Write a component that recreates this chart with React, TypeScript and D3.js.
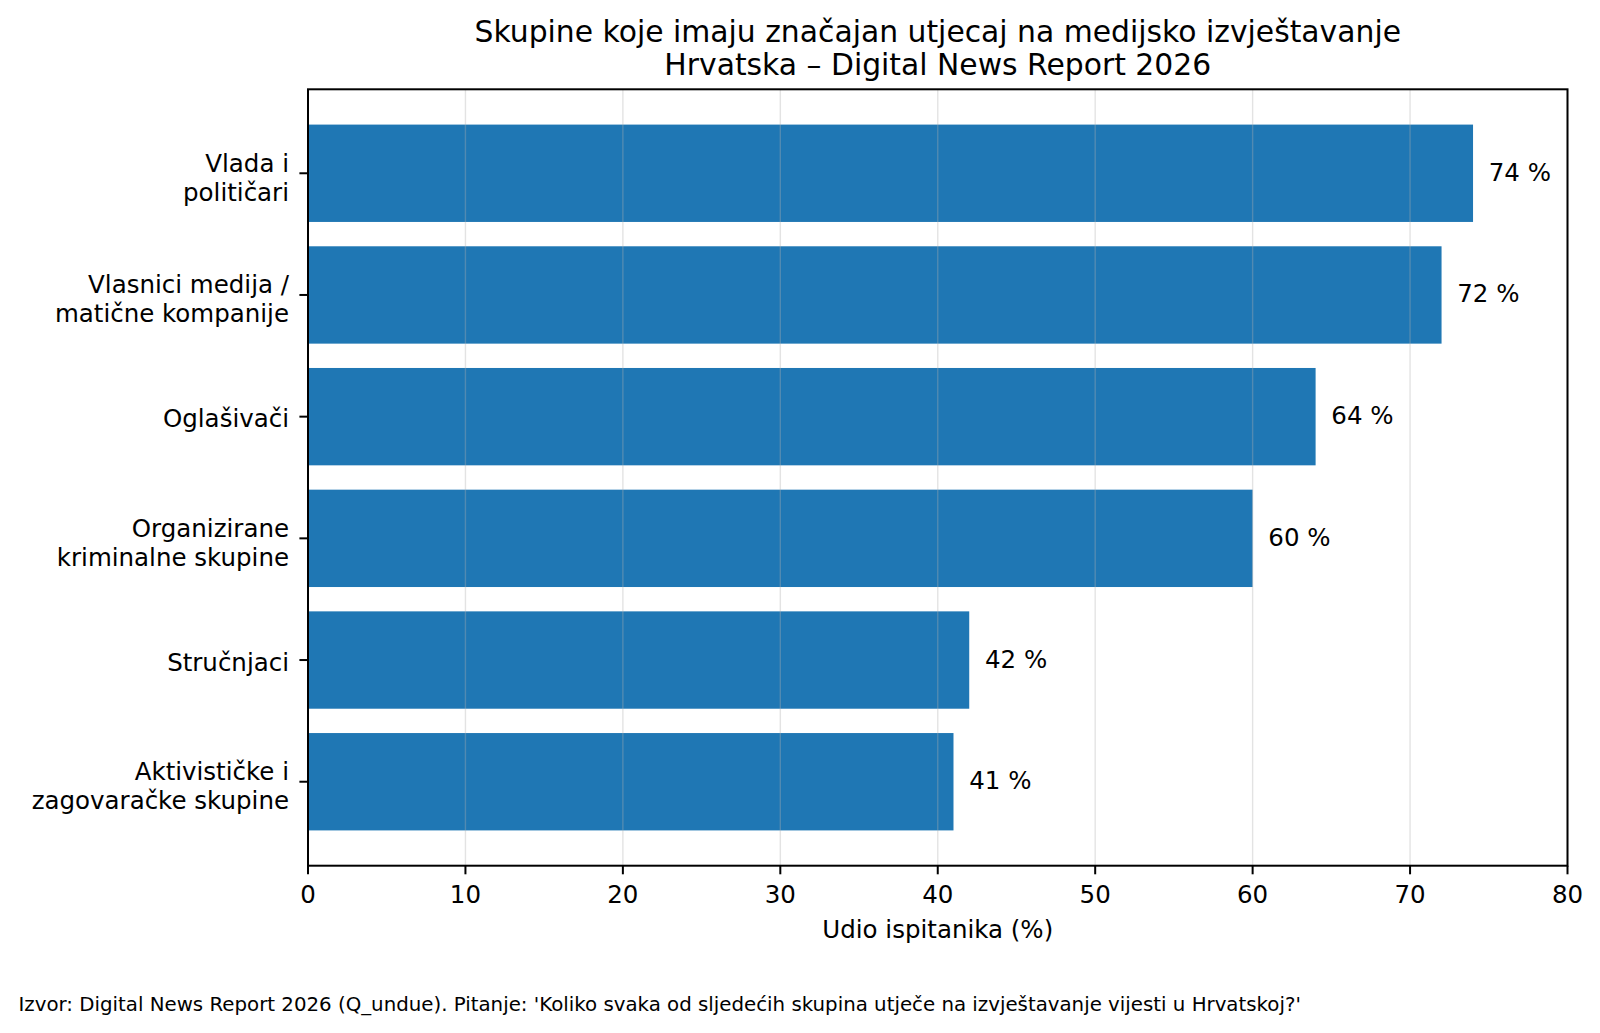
import React from "react";
import * as d3 from "d3";

const categories: string[][] = [
  ["Vlada i", "političari"],
  ["Vlasnici medija /", "matične kompanije"],
  ["Oglašivači"],
  ["Organizirane", "kriminalne skupine"],
  ["Stručnjaci"],
  ["Aktivističke i", "zagovaračke skupine"],
];
const values: number[] = [74, 72, 64, 60, 42, 41];
const xTicks: number[] = [0, 10, 20, 30, 40, 50, 60, 70, 80];
const titleLines: string[] = [
  "Skupine koje imaju značajan utjecaj na medijsko izvještavanje",
  "Hrvatska – Digital News Report 2026",
];
const xLabel = "Udio ispitanika (%)";
const footnote =
  "Izvor: Digital News Report 2026 (Q_undue). Pitanje: 'Koliko svaka od sljedećih skupina utječe na izvještavanje vijesti u Hrvatskoj?'";

const W = 1600;
const H = 1033;
const M = { left: 308, right: 1567.5, top: 89.3, bottom: 865.7 };
const FONT = "DejaVu Sans, sans-serif";
const BAR = "#1f77b4";

export default function App() {
  const x = d3.scaleLinear().domain([0, 80]).range([M.left, M.right]);
  const n = categories.length;
  const y = d3
    .scaleLinear()
    .domain([-0.4 - 0.29, n - 1 + 0.4 + 0.29])
    .range([M.top, M.bottom]);
  const half = 0.4;
  const cx = (M.left + M.right) / 2;
  const tickLen = 8.6;

  return (
    <div style={{ position: "absolute", left: 0, top: 0 }}>
      <svg width={W} height={H} style={{ display: "block", background: "#fff" }} fontFamily={FONT}>
        <rect x={0} y={0} width={W} height={H} fill="#fff" />
        {values.map((v, i) => (
          <rect
            key={i}
            x={x(0)}
            y={y(i - half)}
            width={x(v) - x(0)}
            height={y(i + half) - y(i - half)}
            fill={BAR}
          />
        ))}
        {xTicks.map((t) => (
          <line
            key={t}
            x1={x(t)}
            x2={x(t)}
            y1={M.top}
            y2={M.bottom}
            stroke="#b0b0b0"
            strokeOpacity={0.35}
            strokeWidth={1.4}
          />
        ))}
        {values.map((v, i) => (
          <text key={i} x={x(v + 1)} y={y(i) + 7.5} fontSize={24.5} fill="#000">
            {`${v} %`}
          </text>
        ))}
        <rect
          x={M.left}
          y={M.top}
          width={M.right - M.left}
          height={M.bottom - M.top}
          fill="none"
          stroke="#000"
          strokeWidth={2}
        />
        {xTicks.map((t) => (
          <g key={t}>
            <line x1={x(t)} x2={x(t)} y1={M.bottom} y2={M.bottom + tickLen} stroke="#000" strokeWidth={2} />
            <text x={x(t)} y={M.bottom + 37} fontSize={24.5} textAnchor="middle" fill="#000">
              {t}
            </text>
          </g>
        ))}
        {categories.map((lines, i) => {
          const cy = y(i);
          const offset = lines.length === 1 ? 10.5 : 12.9;
          return (
            <g key={i}>
              <line x1={M.left - tickLen} x2={M.left} y1={cy} y2={cy} stroke="#000" strokeWidth={2} />
              {lines.map((ln, j) => (
                <text
                  key={j}
                  x={M.left - 19}
                  y={cy + offset + (j - (lines.length - 1) / 2) * 29}
                  fontSize={24.5}
                  textAnchor="end"
                  fill="#000"
                >
                  {ln}
                </text>
              ))}
            </g>
          );
        })}
        <text x={cx} y={938} fontSize={24.5} textAnchor="middle" fill="#000">
          {xLabel}
        </text>
        {titleLines.map((t, i) => (
          <text key={i} x={cx} y={42.3 + i * 33} fontSize={29.8} textAnchor="middle" fill="#000">
            {t}
          </text>
        ))}
        <text x={18.5} y={1010.7} fontSize={19.8} fill="#000">
          {footnote}
        </text>
      </svg>
    </div>
  );
}
